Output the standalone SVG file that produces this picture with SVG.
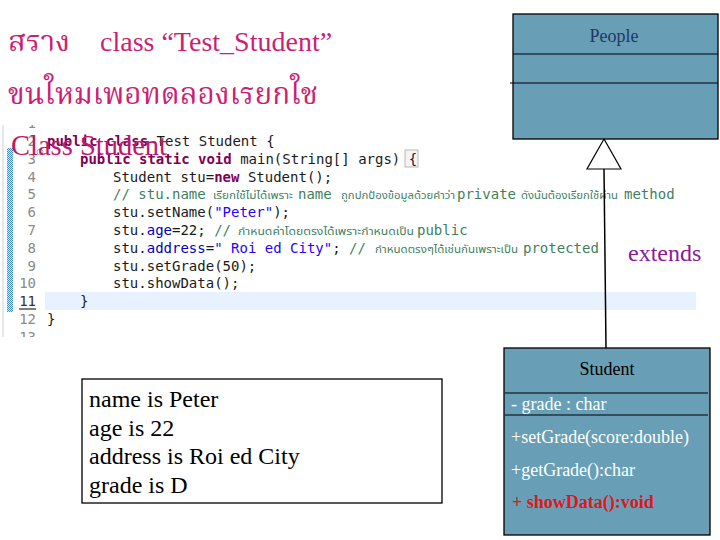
<svg xmlns="http://www.w3.org/2000/svg" width="720" height="540" viewBox="0 0 720 540">
<style>
.title{font-family:"Liberation Serif","Noto Serif Thai","Noto Sans Thai",serif;fill:#cc1f74}
.code{font-family:"DejaVu Sans Mono","Liberation Mono",monospace;font-size:14px;fill:#1a1a1a}
.kw{fill:#7f0055;font-weight:bold}
.cm{fill:#3f7f5f}
.fld{fill:#0000c0}
.str{fill:#2a00ff}
.thai{font-family:"Noto Sans Thai","Noto Sans","DejaVu Sans",sans-serif;font-size:10px;fill:#3f7f5f}
.ln{font-family:"DejaVu Sans Mono","Liberation Mono",monospace;font-size:14px;fill:#8a8a8a;text-anchor:end}
.uml{fill:#689fb6;stroke:#000;stroke-width:1.3}
.div{stroke:#000;stroke-width:1.2}
.serif{font-family:"Liberation Serif","Times New Roman",serif}
.out{font-family:"Liberation Serif","Times New Roman",serif;font-size:24px;fill:#000}
</style>
<defs>
<pattern id="hatch" width="2" height="2" patternUnits="userSpaceOnUse">
<rect width="2" height="2" fill="#d6e9f5"/>
<rect width="1" height="1" fill="#3f8fc6"/>
<rect x="1" y="1" width="1" height="1" fill="#3f8fc6"/>
</pattern>
<clipPath id="codeclip"><rect x="0" y="125" width="700" height="212"/></clipPath>
</defs>
<rect width="720" height="540" fill="#fff"/>

<g id="title">
<text class="title" x="8" y="51" font-size="28" textLength="62" lengthAdjust="spacingAndGlyphs">สราง</text>
<text class="title" x="100" y="51" font-size="28">class “Test_Student”</text>
<text class="title" x="8" y="104" font-size="30" textLength="310" lengthAdjust="spacingAndGlyphs">ขนใหมเพอทดลองเรยกใช</text>
</g>

<g id="code-screenshot" clip-path="url(#codeclip)">
<line x1="3" y1="125" x2="3" y2="337" stroke="#d0d0d0" stroke-width="1"/>
<rect x="7" y="148" width="6" height="164" fill="url(#hatch)"/>
<rect x="45" y="292" width="651" height="18" fill="#e8f2fe"/>
<rect x="405" y="150" width="13" height="17" fill="#f4f4f4" stroke="#b8b8b8" stroke-width="1"/>
<text class="ln" x="36" y="128.2">1</text>
<text class="ln" x="36" y="146">2</text>
<text class="ln" x="36" y="163.8">3</text>
<circle cx="40" cy="152" r="3" fill="none" stroke="#9a9a9a" stroke-width="0.8"/>
<text class="ln" x="36" y="181.6">4</text>
<text class="ln" x="36" y="199.4">5</text>
<text class="ln" x="36" y="217.2">6</text>
<text class="ln" x="36" y="235">7</text>
<text class="ln" x="36" y="252.8">8</text>
<text class="ln" x="36" y="270.6">9</text>
<text class="ln" x="36" y="288.4">10</text>
<text class="ln" x="36" y="306.2" style="fill:#333">11</text>
<line x1="19" y1="309" x2="36" y2="309" stroke="#000" stroke-width="1"/>
<text class="ln" x="36" y="324">12</text>
<text class="ln" x="36" y="341.8">13</text>

<text class="code" x="47" y="146" xml:space="preserve"><tspan class="kw">public class</tspan> Test Student {</text>
<text class="code" x="80" y="163.8" xml:space="preserve"><tspan class="kw">public static void</tspan> main(String[] args) {</text>
<text class="code" x="113" y="181.6" xml:space="preserve">Student stu=<tspan class="kw">new</tspan> Student();</text>
<text class="code cm" x="113" y="199.4">// stu.name</text>
<text class="thai" x="213" y="199.4" textLength="80" lengthAdjust="spacingAndGlyphs">เรียกใช้ไม่ได้เพราะ</text>
<text class="code cm" x="298" y="199.4">name</text>
<text class="thai" x="341" y="199.4" textLength="114" lengthAdjust="spacingAndGlyphs">ถูกปกป้องข้อมูลด้วยคำว่า</text>
<text class="code cm" x="457" y="199.4">private</text>
<text class="thai" x="521" y="199.4" textLength="97" lengthAdjust="spacingAndGlyphs">ดังนั้นต้องเรียกใช้ผ่าน</text>
<text class="code cm" x="624" y="199.4">method</text>
<text class="code" x="113" y="217.2" xml:space="preserve">stu.setName(<tspan class="str">"Peter"</tspan>);</text>
<text class="code" x="113" y="235" xml:space="preserve">stu.<tspan class="fld">age</tspan>=22; <tspan class="cm">//</tspan></text>
<text class="thai" x="238" y="235" textLength="176" lengthAdjust="spacingAndGlyphs">กำหนดค่าโดยตรงได้เพราะกำหนดเป็น</text>
<text class="code cm" x="417" y="235">public</text>
<text class="code" x="113" y="252.8" xml:space="preserve">stu.<tspan class="fld">address</tspan>=<tspan class="str">" Roi ed City"</tspan>; <tspan class="cm">//</tspan></text>
<text class="thai" x="375" y="252.8" textLength="143" lengthAdjust="spacingAndGlyphs">กำหนดตรงๆได้เช่นกันเพราะเป็น</text>
<text class="code cm" x="523" y="252.8">protected</text>
<text class="code" x="113" y="270.6">stu.setGrade(50);</text>
<text class="code" x="113" y="288.4">stu.showData();</text>
<text class="code" x="80" y="306.2">}</text>
<text class="code" x="47" y="324">}</text>
</g>

<g id="class-student-label">
<text class="serif" x="11" y="155" font-size="30" fill="#c0176b" textLength="156" lengthAdjust="spacingAndGlyphs">Class Student</text>
</g>

<g id="connectors">
<line x1="604" y1="169" x2="606" y2="348" stroke="#000" stroke-width="1.5"/>
<polygon points="604,139 587,169 621,169" fill="#fff" stroke="#000" stroke-width="1.2"/>
<text class="serif" x="628" y="261" font-size="24" fill="#8b1a9b">extends</text>
</g>

<g id="people">
<rect class="uml" x="513" y="14" width="205" height="125"/>
<line class="div" x1="513" y1="54" x2="718" y2="54"/>
<line class="div" x1="510" y1="83" x2="718" y2="83"/>
<text class="serif" x="614" y="42" font-size="18" fill="#1f3864" text-anchor="middle">People</text>
</g>

<g id="student">
<rect class="uml" x="504" y="348" width="206" height="187"/>
<line class="div" x1="505" y1="393" x2="708" y2="393"/>
<line class="div" x1="505" y1="415" x2="708" y2="415"/>
<text class="serif" x="607" y="375" font-size="18" fill="#000" text-anchor="middle">Student</text>
<text class="serif" x="511" y="410" font-size="18" fill="#fff">- grade : char</text>
<text class="serif" x="511" y="443" font-size="18" fill="#fff">+setGrade(score:double)</text>
<text class="serif" x="511" y="476" font-size="18" fill="#fff">+getGrade():char</text>
<text class="serif" x="512" y="508" font-size="18" fill="#e0161b" font-weight="bold">+ showData():void</text>
</g>

<g id="output">
<rect x="82" y="379" width="360" height="124" fill="#fff" stroke="#000" stroke-width="1.3"/>
<text class="out" x="89" y="407">name is Peter</text>
<text class="out" x="89" y="436">age is 22</text>
<text class="out" x="89" y="464">address is Roi ed City</text>
<text class="out" x="89" y="493">grade is D</text>
</g>
</svg>
